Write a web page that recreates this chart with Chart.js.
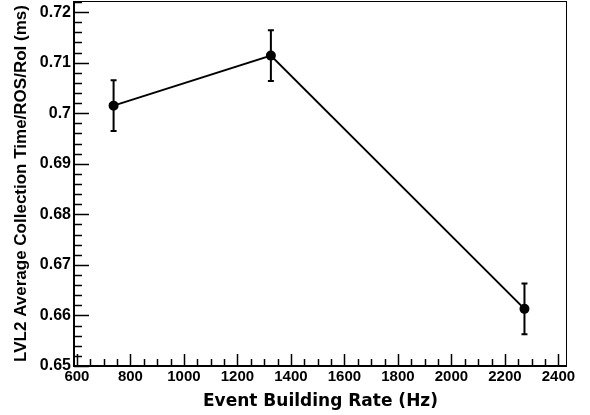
<!DOCTYPE html>
<html>
<head>
<meta charset="utf-8">
<script src="https://cdn.jsdelivr.net/npm/chart.js@4"></script>
<style>
  html, body { margin: 0; padding: 0; background: #fff; }
  #wrap { width: 590px; height: 415px; }
</style>
</head>
<body>
<div id="wrap"><canvas id="rateChart" width="590" height="415"></canvas></div>
<script>
// data
const rates = [737, 1325, 2273];
const collectTimes = [0.7015, 0.7114, 0.6613];
const timeErrors = [0.005, 0.005, 0.005];

const xTicks = [600, 800, 1000, 1200, 1400, 1600, 1800, 2000, 2200, 2400];
const yTicks = [0.65, 0.66, 0.67, 0.68, 0.69, 0.70, 0.71, 0.72];
const xMinorStep = 50;
const yMinorStep = 0.002;

const FONT = '"Liberation Sans", Arial, sans-serif';
const WIDE_FONT = '"DejaVu Sans", sans-serif';

// error bars with small caps
const errorBars = {
    id: 'errorBars',
    afterDatasetsDraw(chart) {
        const ctx = chart.ctx;
        const xs = chart.scales.x, ys = chart.scales.y;
        ctx.save();
        ctx.strokeStyle = '#000';
        ctx.lineWidth = 2;
        rates.forEach((r, i) => {
            const px = xs.getPixelForValue(r);
            const top = ys.getPixelForValue(collectTimes[i] + timeErrors[i]);
            const bot = ys.getPixelForValue(collectTimes[i] - timeErrors[i]);
            ctx.beginPath();
            ctx.moveTo(px, top); ctx.lineTo(px, bot);
            ctx.moveTo(px - 3, top); ctx.lineTo(px + 3, top);
            ctx.moveTo(px - 3, bot); ctx.lineTo(px + 3, bot);
            ctx.stroke();
        });
        ctx.restore();
    }
};

// ROOT style frame with ticks pointing inward
const frameTicks = {
    id: 'frameTicks',
    beforeDatasetsDraw(chart) {
        const ctx = chart.ctx;
        const a = chart.chartArea;
        const xs = chart.scales.x, ys = chart.scales.y;
        ctx.save();
        ctx.strokeStyle = '#000';
        ctx.lineWidth = 1;
        ctx.strokeRect(a.left, a.top + 0.5, a.right - a.left - 0.5, a.bottom - a.top);

        ctx.lineWidth = 2;
        ctx.beginPath();
        ctx.moveTo(a.left, a.top); ctx.lineTo(a.left, a.bottom); ctx.lineTo(a.right, a.bottom);
        ctx.stroke();

        ctx.lineWidth = 1.5;
        ctx.beginPath();
        for (let v = 600; v <= 2400 + 0.1; v += xMinorStep) {
            const px = Math.round(xs.getPixelForValue(v)) + 0.5;
            const major = Math.abs(v % 200) < 0.1;
            ctx.moveTo(px, a.bottom);
            ctx.lineTo(px, a.bottom - (major ? 12 : 7));
        }
        for (let k = 0; k <= 36; k++) {
            const v = 0.65 + k * yMinorStep;
            const py = Math.round(ys.getPixelForValue(v)) + 0.5;
            const major = k % 5 === 0;
            ctx.moveTo(a.left, py);
            ctx.lineTo(a.left + (major ? 15 : 8), py);
        }
        ctx.stroke();
        ctx.restore();
    }
};

const ctx = document.getElementById('rateChart').getContext('2d');
const rateChart = new Chart(ctx, {
    type: 'line',
    data: {
        datasets: [{
            data: rates.map((r, i) => ({ x: r, y: collectTimes[i] })),
            borderColor: '#000',
            backgroundColor: '#000',
            borderWidth: 2,
            pointRadius: 4,
            pointHoverRadius: 4,
            tension: 0,
            clip: false
        }]
    },
    options: {
        responsive: false,
        animation: false,
        layout: { autoPadding: false, padding: { top: 1, right: 23, left: 0, bottom: 0 } },
        plugins: {
            legend: { display: false },
            tooltip: { enabled: false }
        },
        scales: {
            x: {
                type: 'linear',
                min: 589,
                max: 2432,
                afterBuildTicks: s => { s.ticks = xTicks.map(v => ({ value: v })); },
                afterFit: s => { s.height = 49; s.paddingLeft = 0; s.paddingRight = 0; },
                grid: { display: false, drawTicks: false },
                border: { display: false },
                ticks: {
                    color: '#000',
                    padding: 2,
                    maxRotation: 0,
                    autoSkip: false,
                    font: { family: FONT, size: 15, weight: 'bold' },
                    callback: v => String(v)
                },
                title: {
                    display: true,
                    text: 'Event Building Rate (Hz)',
                    color: '#000',
                    padding: { top: 3, bottom: 3 },
                    font: { family: WIDE_FONT, size: 17, weight: 'bold' }
                }
            },
            y: {
                type: 'linear',
                min: 0.65,
                max: 0.7222,
                afterBuildTicks: s => { s.ticks = yTicks.map(v => ({ value: v })); },
                afterFit: s => { s.width = 74; s.paddingTop = 0; s.paddingBottom = 0; },
                grid: { display: false, drawTicks: false },
                border: { display: false },
                ticks: {
                    color: '#000',
                    padding: 3,
                    autoSkip: false,
                    font: { family: FONT, size: 16, weight: 'bold' },
                    callback: v => String(parseFloat(v.toFixed(2)))
                },
                title: {
                    display: true,
                    text: 'LVL2 Average Collection Time/ROS/RoI (ms)',
                    color: '#000',
                    padding: { top: 11, bottom: 0 },
                    font: { family: FONT, size: 17, weight: 'bold' }
                }
            }
        }
    },
    plugins: [frameTicks, errorBars]
});
</script>
</body>
</html>
